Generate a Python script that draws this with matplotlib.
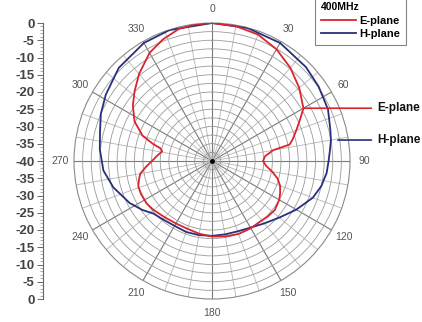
import numpy as np
import matplotlib
matplotlib.use('Agg')
import matplotlib.pyplot as plt
from matplotlib.lines import Line2D

plt.rcParams['font.family'] = ['Liberation Sans', 'DejaVu Sans']

# E-plane pattern (deg, dB)
e_deg = [0, 10, 20, 30, 40, 50, 60, 65, 70, 75, 78, 80, 85, 90, 95, 100, 105, 110,
         115, 120, 128, 135, 142, 150, 160, 170, 180, 190, 200, 210, 220, 230, 237,
         245, 251, 256, 260, 265, 270, 275, 281, 284, 286, 290, 297, 305, 312, 320,
         330, 338, 346, 353]
e_db = [0.0, -0.3, -1.0, -2.6, -4.7, -7.0, -9.4, -11.9, -14.0, -15.8, -17.0, -22.0,
        -24.6, -25.2, -24.3, -22.3, -20.3, -19.0, -18.2, -17.5, -16.9, -17.2, -17.6,
        -17.5, -17.5, -17.8, -18.1, -18.6, -19.1, -19.1, -18.7, -17.9, -17.4, -17.3,
        -17.4, -18.2, -18.9, -20.8, -22.6, -23.9, -25.3, -24.5, -22.3, -18.6, -14.8,
        -12.0, -9.8, -7.1, -3.8, -2.0, -0.5, -0.1]

# H-plane pattern (deg, dB)
h_deg = [0, 15, 30, 45, 55, 66, 75, 80, 85, 90, 96, 103, 110, 120, 130, 140, 150,
         160, 170, 180, 190, 200, 210, 220, 228, 235, 243, 255, 265, 276, 285, 293,
         302, 315, 330, 342]
h_db = [0.0, -0.1, -0.5, -1.5, -2.3, -3.2, -4.5, -5.0, -5.7, -6.2, -6.6, -7.5, -8.9,
        -11.8, -14.5, -16.4, -17.7, -18.3, -18.4, -18.3, -18.2, -18.1, -18.3, -17.9,
        -17.2, -15.3, -13.2, -10.4, -8.4, -7.3, -6.4, -5.0, -3.7, -1.8, -0.5, -0.1]

angle_labels = ['0', '30', '60', '90', '120', '150', '180', '210', '240', '270', '300', '330']
freq = '400MHz'
red = '#d8252e'
blue = '#27307a'

W, H = 422, 322
fig = plt.figure(figsize=(W / 100, H / 100), dpi=100)

# polar grid: centre at (212, 161), radius 138 px
cx, cy, R = 212, 161, 138
ax = fig.add_axes([(cx - R) / W, (H - cy - R) / H, 2 * R / W, 2 * R / H],
                  projection='polar')
ax.set_theta_zero_location('N')
ax.set_theta_direction(-1)
ax.set_ylim(-40, 0)

ax.set_xticks(np.deg2rad(np.arange(0, 360, 30)))
ax.set_xticklabels(angle_labels, fontsize=7.5, color='#555555')
ax.set_xticks(np.deg2rad(np.arange(0, 360, 10)), minor=True)
ax.set_yticks(np.arange(-37.5, 0, 2.5))
ax.set_yticklabels([])
ax.tick_params(axis='x', which='both', length=0, pad=3)
ax.xaxis.grid(True, which='major', color='#7a7a7a', lw=0.8)
ax.xaxis.grid(True, which='minor', color='#b5b5b5', lw=0.6)
ax.yaxis.grid(True, color='#9a9a9a', lw=0.6)
ax.spines['polar'].set_color('#8a8a8a')
ax.spines['polar'].set_linewidth(0.8)

e_t = np.deg2rad(e_deg + [e_deg[0]])
h_t = np.deg2rad(h_deg + [h_deg[0]])
ax.plot(h_t, h_db + [h_db[0]], color=blue, lw=1.3, label='H-plane', zorder=3)
ax.plot(e_t, e_db + [e_db[0]], color=red, lw=1.3, label='E-plane', zorder=4)
ax.plot([0], [-40], 'o', color='black', ms=2.5, zorder=5)

# leader labels for the two curves
text_x = 377
ax.annotate('E-plane', xy=(np.deg2rad(60), e_db[e_deg.index(60)]),
            xytext=(text_x, 0), textcoords='figure pixels', fontsize=8.5, weight='bold',
            va='center', ha='left', color='#111111',
            arrowprops=dict(arrowstyle='-', color=red, lw=1.2, shrinkA=2, shrinkB=0))
ax.annotate('H-plane', xy=(np.deg2rad(80), h_db[h_deg.index(80)]),
            xytext=(text_x, 0), textcoords='figure pixels', fontsize=8.5, weight='bold',
            va='center', ha='left', color='#111111',
            arrowprops=dict(arrowstyle='-', color=blue, lw=1.2, shrinkA=2, shrinkB=5))
# keep the leaders horizontal
fig.canvas.draw()
for ann in ax.texts:
    px, py = ax.transData.transform((ann.xy[0], ann.xy[1]))
    ann.set_position((text_x, py))

leg = ax.legend(handles=[Line2D([], [], color=red, lw=1.3),
                         Line2D([], [], color=blue, lw=1.3)],
                labels=['E-plane', 'H-plane'], title=freq,
                loc='upper left', bbox_to_anchor=(315 / W, 1.01),
                bbox_transform=fig.transFigure, borderaxespad=0,
                fontsize=8, title_fontsize=7.5,
                handlelength=3.2, handletextpad=0.3, borderpad=0.5, labelspacing=0.3,
                frameon=True, fancybox=False, edgecolor='#666666', alignment='left')
for t in leg.get_texts():
    t.set_weight('bold')
leg.get_title().set_weight('bold')
leg.get_frame().set_linewidth(0.8)

# dB scale on the left: 0 at the rim, -40 at the centre
ax2 = fig.add_axes([43 / W, (H - cy - R) / H, 0.001, 2 * R / H])
ax2.set_ylim(-40, 40)
ax2.set_xticks([])
for s in ['top', 'right', 'bottom']:
    ax2.spines[s].set_visible(False)
ax2.spines['left'].set_color('#666666')
ax2.spines['left'].set_linewidth(0.8)
ticks = np.arange(-40, 41, 5)
ax2.set_yticks(ticks)
ax2.set_yticklabels([str(int(abs(v) - 40)) for v in ticks], fontsize=9.5,
                    weight='bold', color='#444444')
ax2.set_yticks(np.arange(-40, 41, 1), minor=True)
ax2.tick_params(axis='y', which='major', length=4, width=0.7, color='#666666', pad=2)
ax2.tick_params(axis='y', which='minor', length=2, width=0.5, color='#888888')

fig.savefig('out.png', dpi=100)
